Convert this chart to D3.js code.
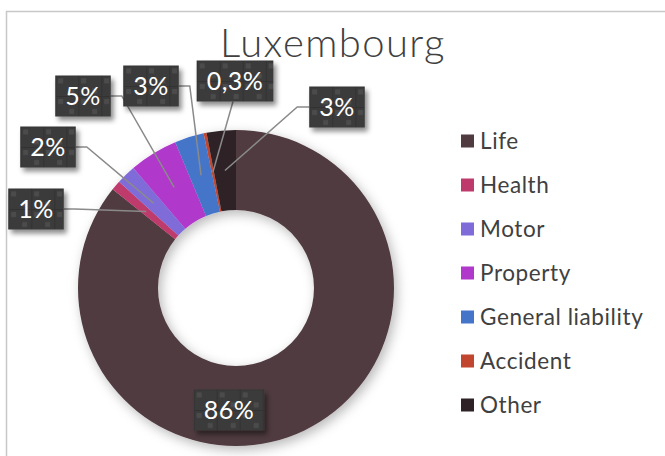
<!DOCTYPE html>
<html>
<head>
<meta charset="utf-8">
<script src="https://cdn.jsdelivr.net/npm/d3@7"></script>
<style>
  body { margin: 0; background: #fff; }
  svg { display: block; font-family: Lato, "Open Sans", sans-serif; }
</style>
</head>
<body>
<section></section>
<script>
// data
const categories = ['Life', 'Health', 'Motor', 'Property', 'General liability', 'Accident', 'Other'];
const shares = [86, 1, 2, 5, 3, 0.3, 3];
const shareLabels = ['86%', '1%', '2%', '5%', '3%', '0,3%', '3%'];
const colors = ['#503b40', '#bf3a6c', '#7f6cd9', '#b038cb', '#4575c9', '#c2462f', '#2e2226'];

// label boxes placement: [centerX, centerY, leader side]
const labelPlaces = [
  [229, 410, 'none'],
  [36, 209, 'right'],
  [48, 147, 'right'],
  [83, 96, 'right'],
  [151, 86, 'right'],
  [235, 81, 'bottom'],
  [337, 107, 'left']
];

const width = 665, height = 456;
const cx = 236, cy = 288, rOuter = 158, rInner = 78;

const svg = d3.select('section')
  .append('svg')
  .attr('width', width)
  .attr('height', height);

const defs = svg.append('defs');
const ringShadow = defs.append('filter').attr('id', 'ringShadow')
  .attr('x', '-20%').attr('y', '-20%').attr('width', '140%').attr('height', '140%');
ringShadow.append('feDropShadow')
  .attr('dx', 3).attr('dy', 4).attr('stdDeviation', 6)
  .attr('flood-color', '#000').attr('flood-opacity', 0.28);
const boxShadow = defs.append('filter').attr('id', 'boxShadow')
  .attr('x', '-30%').attr('y', '-30%').attr('width', '160%').attr('height', '170%');
boxShadow.append('feDropShadow')
  .attr('dx', 3).attr('dy', 4).attr('stdDeviation', 2.5)
  .attr('flood-color', '#000').attr('flood-opacity', 0.45);

// chart frame
svg.append('rect')
  .attr('x', 6.5).attr('y', 11.5)
  .attr('width', width + 10).attr('height', height + 10)
  .attr('fill', '#fff')
  .attr('stroke', '#c8c8c8')
  .attr('stroke-width', 1.5);

svg.append('text')
  .attr('x', 333).attr('y', 57)
  .attr('text-anchor', 'middle')
  .attr('font-size', 40)
  .attr('font-weight', 300)
  .attr('letter-spacing', 1.4)
  .attr('fill', '#404040')
  .text('Luxembourg');

const pie = d3.pie().sort(null).value(d => d)
const arcs = pie(shares);
const arc = d3.arc().innerRadius(rInner).outerRadius(rOuter);

const ring = svg.append('g')
  .attr('transform', `translate(${cx},${cy})`)
  .attr('filter', 'url(#ringShadow)');
ring.selectAll('path')
  .data(arcs)
  .enter()
  .append('path')
  .attr('d', arc)
  .attr('fill', (d, i) => colors[i])
  .attr('stroke', 'none');

// leader lines
const boxH = 41, padX = 10;
const measure = svg.append('text').attr('font-size', 25).attr('letter-spacing', 0.5).attr('visibility', 'hidden');
const boxW = shareLabels.map(t => {
  measure.text(t);
  return measure.node().getComputedTextLength() + padX * 2;
});
measure.remove();

const leaders = svg.append('g');
arcs.forEach((d, i) => {
  const place = labelPlaces[i];
  if (place[2] === 'none') return;
  const c = arc.centroid(d);
  const end = [cx + c[0], cy + c[1]];
  let pts;
  if (place[2] === 'right') {
    const sx = place[0] + boxW[i] / 2;
    pts = [[sx, place[1]], [sx + 11, place[1]], end];
  } else if (place[2] === 'left') {
    const sx = place[0] - boxW[i] / 2;
    pts = [[sx, place[1]], [sx - 12, place[1]], end];
  } else {
    pts = [[place[0] - 2, place[1] + boxH / 2], end];
  }
  leaders.append('path')
    .attr('d', d3.line()(pts))
    .attr('fill', 'none')
    .attr('stroke', '#8a8a8a')
    .attr('stroke-width', 1.5);
});

// label boxes
const boxes = svg.append('g');
shareLabels.forEach((t, i) => {
  const [x0, y0] = [labelPlaces[i][0] - boxW[i] / 2, labelPlaces[i][1] - boxH / 2];
  const pat = defs.append('pattern')
    .attr('id', 'tex' + i)
    .attr('patternUnits', 'userSpaceOnUse')
    .attr('x', x0).attr('y', y0)
    .attr('width', 23).attr('height', 20.5);
  pat.append('rect').attr('width', 23).attr('height', 20.5).attr('fill', '#3a3a3a');
  pat.append('path').attr('d', 'M0.5,0V20.5M0,0.5H23').attr('stroke', '#333').attr('stroke-width', 1);
  pat.append('rect').attr('x', 3).attr('y', 3).attr('width', 5).attr('height', 5).attr('fill', '#4c4c4c');
  pat.append('rect').attr('x', 14).attr('y', 13).attr('width', 5).attr('height', 5).attr('fill', '#4c4c4c');

  const g = boxes.append('g').attr('filter', 'url(#boxShadow)');
  g.append('rect')
    .attr('x', x0).attr('y', y0)
    .attr('width', boxW[i]).attr('height', boxH)
    .attr('fill', `url(#tex${i})`);
  boxes.append('text')
    .attr('x', labelPlaces[i][0]).attr('y', labelPlaces[i][1] + 9)
    .attr('text-anchor', 'middle')
    .attr('font-size', 25)
    .attr('letter-spacing', 0.5)
    .attr('fill', '#fff')
    .text(t);
});

// legend
const legendY = d3.scalePoint().domain(categories).range([141, 405]);
const legend = svg.append('g');
categories.forEach((c, i) => {
  legend.append('rect')
    .attr('x', 461).attr('y', legendY(c) - 6.5)
    .attr('width', 13).attr('height', 13)
    .attr('fill', colors[i]);
  legend.append('text')
    .attr('x', 480).attr('y', legendY(c) + 8)
    .attr('font-size', 22.5)
    .attr('letter-spacing', 0.6)
    .attr('fill', '#404040')
    .text(c);
});
</script>
</body>
</html>
